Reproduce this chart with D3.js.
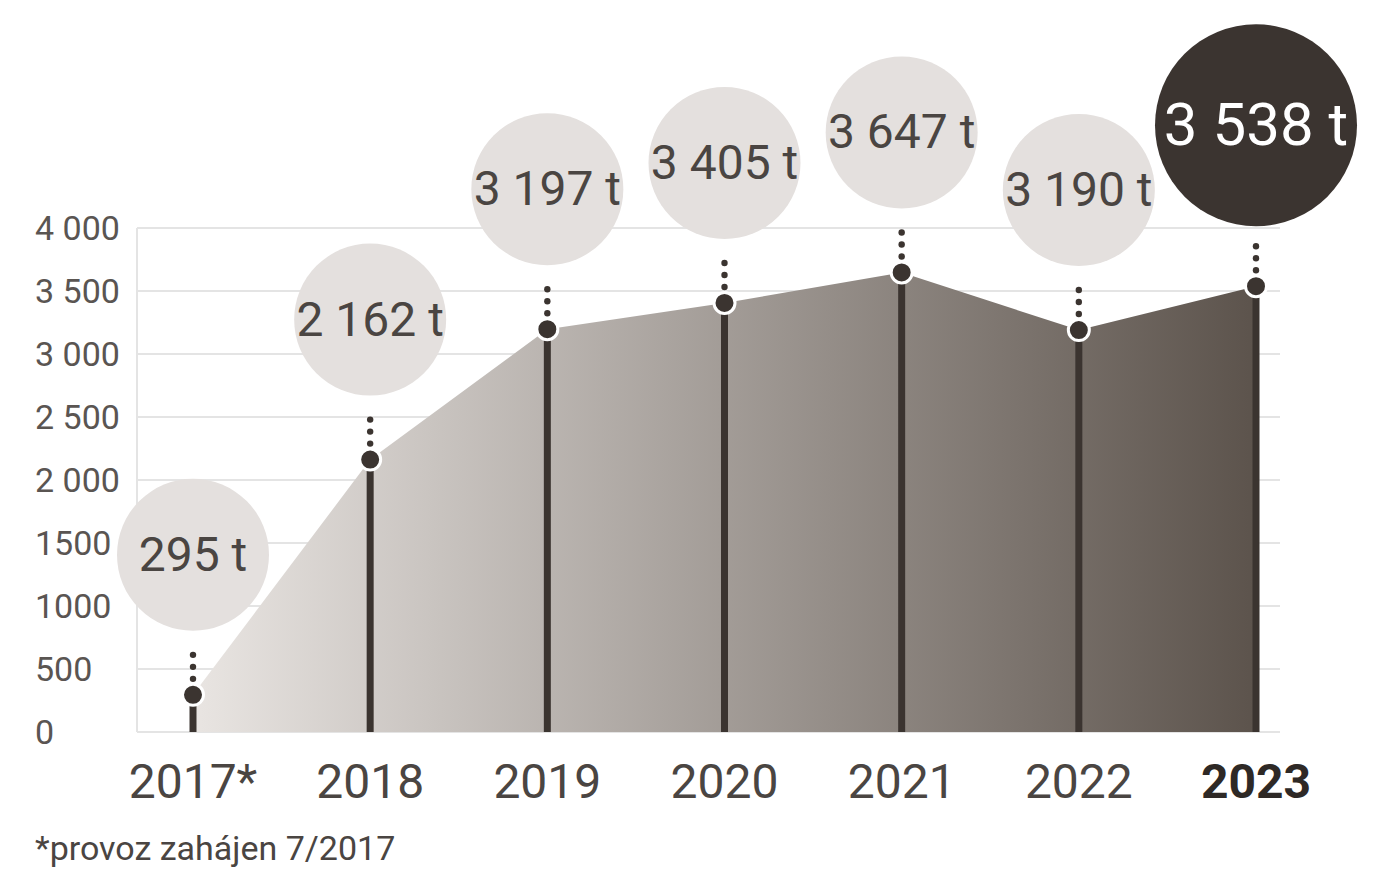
<!DOCTYPE html>
<html><head><meta charset="utf-8">
<script src="https://cdn.jsdelivr.net/npm/d3@7"></script>
<style>body{margin:0;background:#fff}text{font-family:"Liberation Sans Narrow","Roboto","DejaVu Sans Condensed",sans-serif}</style>
</head><body><svg id="c" width="1400" height="879"></svg>
<script>
var years=["2017*","2018","2019","2020","2021","2022","2023"];
var values=[295,2162,3197,3405,3647,3190,3538];
var valueLabels=["295 t","2 162 t","3 197 t","3 405 t","3 647 t","3 190 t","3 538 t"];
var yTicks=[0,500,1000,1500,2000,2500,3000,3500,4000];
var yTickLabels=["0","500","1000","1500","2 000","2 500","3 000","3 500","4 000"];

var svg=d3.select("#c");
var x=d3.scalePoint().domain(years).range([193,1256]);
var y=d3.scaleLinear().domain([0,4000]).range([732,228]);
var last=years.length-1;

var defs=svg.append("defs");
var g=defs.append("linearGradient").attr("id","ga").attr("gradientUnits","userSpaceOnUse")
  .attr("x1",193).attr("x2",1256).attr("y1",0).attr("y2",0);
g.append("stop").attr("offset",0).attr("stop-color","#e9e5e2");
g.append("stop").attr("offset",1).attr("stop-color","#5c534c");

// grid
svg.append("g").selectAll("line").data(yTicks).join("line")
  .attr("x1",137).attr("x2",1280).attr("y1",d=>y(d)).attr("y2",d=>y(d))
  .attr("stroke","#e4e4e4").attr("stroke-width",2);
svg.append("line").attr("x1",137).attr("x2",137).attr("y1",228).attr("y2",732).attr("stroke","#e4e4e4").attr("stroke-width",2);
svg.append("g").selectAll("text").data(yTicks).join("text")
  .attr("x",35).attr("y",d=>y(d)+12).text((d,i)=>yTickLabels[i])
  .attr("font-size",34).attr("fill","#5a5552");

// area
var area=d3.area().x((d,i)=>x(years[i])).y0(y(0)).y1(d=>y(d));
svg.append("path").datum(values).attr("d",area).attr("fill","url(#ga)");

// stems
svg.append("g").selectAll("line").data(values).join("line")
  .attr("x1",(d,i)=>x(years[i])).attr("x2",(d,i)=>x(years[i]))
  .attr("y1",y(0)).attr("y2",d=>y(d)).attr("stroke","#3b3430").attr("stroke-width",7);

// dotted connectors
values.forEach(function(v,i){
  [16,28,40].forEach(function(o){
    svg.append("circle").attr("cx",x(years[i])).attr("cy",y(v)-o).attr("r",3.2).attr("fill","#3b3430");
  });
});

svg.append("g").selectAll("circle").data(values).join("circle")
  .attr("cx",(d,i)=>x(years[i])).attr("cy",d=>y(d)).attr("r",10.5)
  .attr("fill","#3b3430").attr("stroke","#fff").attr("stroke-width",3);

// bubbles
var bub=svg.append("g").selectAll("g").data(values).join("g")
  .attr("transform",(d,i)=>"translate("+x(years[i])+","+(y(d)-(i==last?161:140))+")");
bub.append("circle").attr("r",(d,i)=>i==last?101:76)
  .attr("fill",(d,i)=>i==last?"#3b3430":"#e4e0de");
bub.append("text").attr("text-anchor","middle").attr("y",(d,i)=>i==last?20:16)
  .attr("font-size",(d,i)=>i==last?60:48)
  .attr("fill",(d,i)=>i==last?"#fff":"#4a4542")
  .text((d,i)=>valueLabels[i]);

// year labels
svg.append("g").selectAll("text").data(years).join("text")
  .attr("x",d=>x(d)).attr("y",798).attr("text-anchor","middle")
  .attr("font-size",48).attr("font-weight",(d,i)=>i==last?"bold":"normal")
  .attr("fill",(d,i)=>i==last?"#2e2926":"#4a4542").text(d=>d);

svg.append("text").attr("x",35).attr("y",860).attr("font-size",34).attr("fill","#4a4542")
  .text("*provoz zahájen 7/2017");
</script></body></html>
